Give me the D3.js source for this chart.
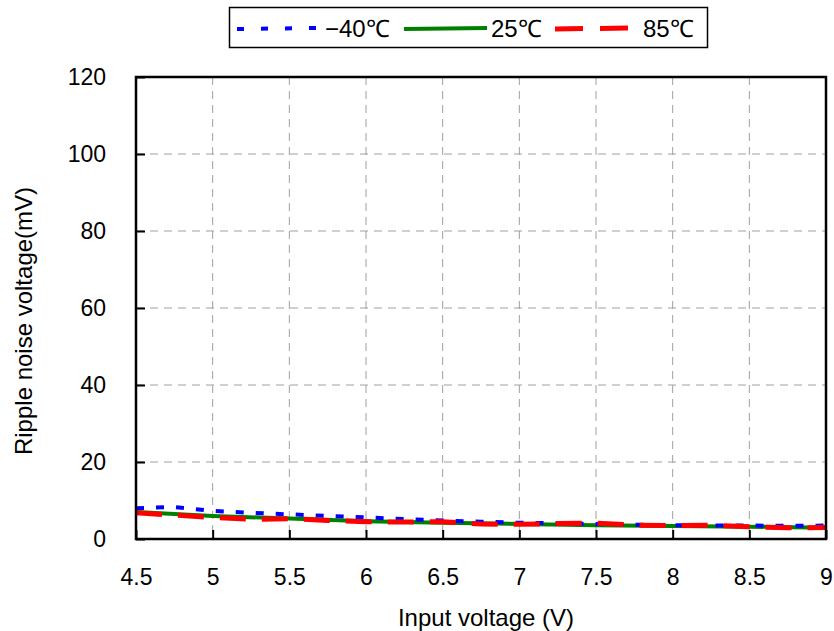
<!DOCTYPE html>
<html>
<head>
<meta charset="utf-8">
<script src="https://cdn.jsdelivr.net/npm/d3@7"></script>
<style>
  body { margin: 0; background: #fff; }
  text { fill: #000; }
</style>
</head>
<body>
<div id="main"></div>
<script>
// input voltage sample points for each temperature
const xBlue = [4.5, 4.75, 5, 5.25, 5.5, 5.75, 6, 6.25, 6.5, 6.75, 7, 7.25, 7.5, 7.75, 8, 8.25, 8.5, 8.75, 9];
const yBlue = [8.0, 8.3, 7.3, 6.8, 6.4, 6.0, 5.6, 5.2, 4.8, 4.5, 4.2, 4.1, 3.9, 3.7, 3.6, 3.5, 3.5, 3.4, 3.5];

const xGreen = [4.5, 5, 5.5, 6, 6.5, 7, 7.5, 8, 8.5, 9];
const yGreen = [7.0, 6.0, 5.3, 4.6, 4.2, 3.9, 3.6, 3.4, 3.2, 2.9];

const xRed = [4.5, 4.75, 5, 5.25, 5.5, 5.75, 6, 6.25, 6.5, 6.75, 7, 7.25, 7.5, 7.75, 8, 8.25, 8.5, 8.75, 9];
const yRed = [6.8, 6.2, 5.6, 5.1, 5.3, 4.8, 4.5, 4.4, 4.5, 3.9, 3.8, 4.0, 4.1, 3.6, 3.5, 3.6, 3.2, 2.9, 3.0];

const xTicks = [4.5, 5, 5.5, 6, 6.5, 7, 7.5, 8, 8.5, 9];
const yTicks = [0, 20, 40, 60, 80, 100, 120];

const seriesNames = ['\u221240\u2103', '25\u2103', '85\u2103'];
const seriesColors = ['#0000ff', '#008000', '#ff0000'];
const seriesDash = ['8,12', null, '26,16'];
const seriesWidth = [4, 4, 5];

const width = 834, height = 631;
const margin = {left: 136, right: 8, top: 77, bottom: 92};
const plotW = width - margin.left - margin.right;
const plotH = height - margin.top - margin.bottom;

const labelFont = 'Arial, "Liberation Sans", sans-serif';

let svg = d3.select('#main')
    .append('svg')
        .attr('width', width)
        .attr('height', height);

let x = d3.scaleLinear().domain([4.5, 9]).range([0, plotW]);
let y = d3.scaleLinear().domain([0, 120]).range([plotH, 0]);

let g = svg.append('g').attr('transform', `translate(${margin.left},${margin.top})`);

// dashed grid
g.selectAll('.vgrid')
    .data(xTicks.slice(1, -1))
    .enter().append('line')
        .attr('x1', d => x(d)).attr('x2', d => x(d))
        .attr('y1', 0).attr('y2', plotH)
        .attr('stroke', '#a0a0a0').attr('stroke-width', 1)
        .attr('stroke-dasharray', '8,6');
g.selectAll('.hgrid')
    .data(yTicks.slice(1, -1))
    .enter().append('line')
        .attr('x1', 0).attr('x2', plotW)
        .attr('y1', d => y(d)).attr('y2', d => y(d))
        .attr('stroke', '#a0a0a0').attr('stroke-width', 1)
        .attr('stroke-dasharray', '8,6');

// axes with inward ticks
let xAxis = g.append('g')
    .attr('transform', `translate(0,${plotH})`)
    .call(d3.axisBottom(x).tickValues(xTicks).tickSizeInner(-9).tickSizeOuter(0).tickPadding(30).tickFormat(d3.format('')));
let yAxis = g.append('g')
    .call(d3.axisLeft(y).tickValues(yTicks).tickSizeInner(-9).tickSizeOuter(0).tickPadding(30));

[xAxis, yAxis].forEach(a => {
    a.selectAll('.domain').remove();
    a.selectAll('line').attr('stroke', '#000').attr('stroke-width', 2);
    a.selectAll('text')
        .style('font-family', labelFont)
        .style('font-size', '23px')
        .attr('fill', '#000');
});

// lines
let line = d3.line().x(d => x(d[0])).y(d => y(d[1]));
const series = [d3.zip(xBlue, yBlue), d3.zip(xGreen, yGreen), d3.zip(xRed, yRed)];
const drawOrder = [1, 0, 2];
svg.append('clipPath').attr('id', 'clip')
    .append('rect').attr('width', plotW).attr('height', plotH + 3);
g.append('g').attr('clip-path', 'url(#clip)')
    .selectAll('path')
    .data(drawOrder)
    .enter().append('path')
        .attr('d', i => line(series[i]))
        .attr('fill', 'none')
        .attr('stroke', i => seriesColors[i])
        .attr('stroke-width', i => seriesWidth[i])
        .attr('stroke-dasharray', i => seriesDash[i]);

// frame
g.append('rect')
    .attr('width', plotW).attr('height', plotH)
    .attr('fill', 'none').attr('stroke', '#000').attr('stroke-width', 2.5);

// axis titles
svg.append('text')
    .attr('x', margin.left + plotW / 2 + 5)
    .attr('y', 626)
    .attr('text-anchor', 'middle')
    .style('font-family', labelFont)
    .style('font-size', '24px')
    .text('Input voltage (V)');
svg.append('text')
    .attr('transform', `translate(32,321) rotate(-90)`)
    .attr('text-anchor', 'middle')
    .style('font-family', labelFont)
    .style('font-size', '24px')
    .text('Ripple noise voltage(mV)');

// legend
let legend = svg.append('g');
legend.append('rect')
    .attr('x', 229.5).attr('y', 7.5).attr('width', 478).attr('height', 40)
    .attr('fill', '#fff').attr('stroke', '#000').attr('stroke-width', 1.5);
const legendItems = [
    {x1: 237, x2: 318, tx: 325},
    {x1: 404, x2: 487, tx: 491},
    {x1: 555, x2: 628, tx: 643}
];
legend.selectAll('.lgline')
    .data(legendItems)
    .enter().append('line')
        .attr('x1', d => d.x1).attr('x2', d => d.x2)
        .attr('y1', 29).attr('y2', 28)
        .attr('stroke', (d, i) => seriesColors[i])
        .attr('stroke-width', (d, i) => seriesWidth[i])
        .attr('stroke-dasharray', (d, i) => i === 0 ? '7,17' : (i === 2 ? '28,17' : null));
legend.selectAll('.lgtext')
    .data(legendItems)
    .enter().append('text')
        .attr('x', d => d.tx).attr('y', 37)
        .style('font-family', '"Liberation Sans Narrow", Arial, sans-serif')
        .style('font-size', '24px')
        .text((d, i) => seriesNames[i]);
</script>
</body>
</html>
